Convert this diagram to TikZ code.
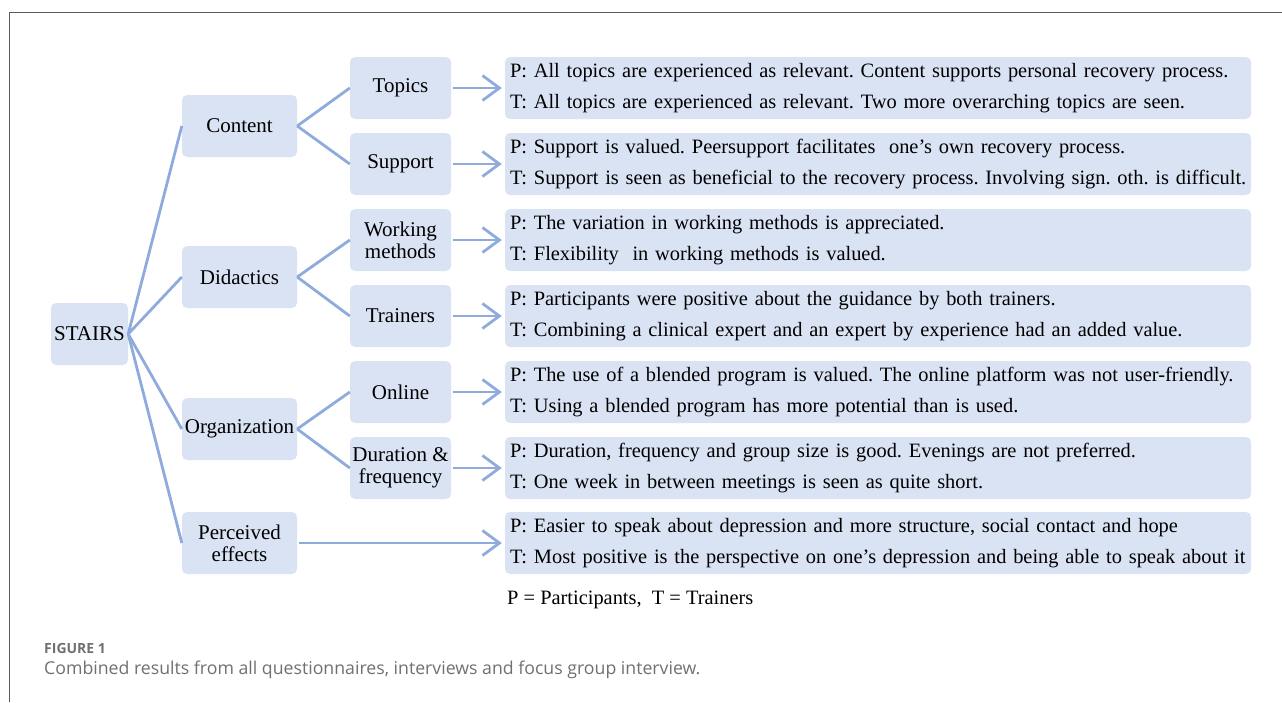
\documentclass[tikz,border=0pt]{standalone}
\usepackage{fontspec}
\setmainfont{Liberation Serif}
\newfontfamily\capfont{Open Sans}
\usetikzlibrary{arrows.meta}
\definecolor{boxblue}{RGB}{218,227,243}
\definecolor{lineblue}{RGB}{143,170,220}
\definecolor{framegray}{RGB}{90,90,90}
\definecolor{capgray}{RGB}{112,112,112}
\frenchspacing
\begin{document}
\begin{tikzpicture}[x=1pt,y=-1pt,
  box/.style={fill=boxblue, rounded corners=5pt, inner sep=0pt, minimum height=62pt, font=\fontsize{21}{22}\selectfont, align=center},
  rootbox/.style={box, minimum width=77pt},
  topbox/.style={box, minimum width=115pt},
  midbox/.style={box, minimum width=101pt},
  resbox/.style={box, inner xsep=5pt, text width=736pt, align=left, font=\fontsize{20.4}{31}\selectfont},
  conn/.style={draw=lineblue, line width=2.8pt},
  arr/.style={conn, shorten <=2pt, shorten >=3pt, -{Straight Barb[length=17pt,width=25pt,line width=2.8pt]}}]
\useasboundingbox (0,0) rectangle (1282,702);
\draw[framegray, line width=1pt] (9,702) -- (9,12) -- (1282,12);

\node[rootbox] (stairs) at (89.5,334) {STAIRS};

\node[topbox] (content) at (239.5,126) {Content};
\node[topbox] (didactics) at (239.5,277) {Didactics};
\node[topbox] (organization) at (239.5,429) {Organization};
\node[topbox] (perceived) at (239.5,543) {Perceived\\effects};

\node[midbox] (topics) at (400.5,88) {Topics};
\node[midbox] (support) at (400.5,164) {Support};
\node[midbox] (working) at (400.5,240) {Working\\methods};
\node[midbox] (trainers) at (400.5,316) {Trainers};
\node[midbox] (online) at (400.5,392) {Online};
\node[midbox] (duration) at (400.5,468) {Duration \&\\frequency};

\node[resbox] (rtopics) at (878,88) {\mbox{P: All topics are experienced as relevant. Content supports personal recovery process.}\\\mbox{T: All topics are experienced as relevant. Two more overarching topics are seen.}};
\node[resbox] (rsupport) at (878,164) {\mbox{P: Support is valued. Peersupport facilitates \ one's own recovery process.}\\\mbox{T: Support is seen as beneficial to the recovery process. Involving sign. oth. is difficult.}};
\node[resbox] (rworking) at (878,240) {\mbox{P: The variation in working methods is appreciated.}\\\mbox{T: Flexibility \ in working methods is valued.}};
\node[resbox] (rtrainers) at (878,316) {\mbox{P: Participants were positive about the guidance by both trainers.}\\\mbox{T: Combining a clinical expert and an expert by experience had an added value.}};
\node[resbox] (ronline) at (878,392) {\mbox{P: The use of a blended program is valued. The online platform was not user-friendly.}\\\mbox{T: Using a blended program has more potential than is used.}};
\node[resbox] (rduration) at (878,468) {\mbox{P: Duration, frequency and group size is good. Evenings are not preferred.}\\\mbox{T: One week in between meetings is seen as quite short.}};
\node[resbox] (rperceived) at (878,543) {\mbox{P: Easier to speak about depression and more structure, social contact and hope}\\\mbox{T: Most positive is the perspective on one's depression and being able to speak about it}};

\node[anchor=west, inner sep=0pt, font=\fontsize{20.4}{22}\selectfont] (legend) at (507,600) {P = Participants, \ T = Trainers};

\node[anchor=base west, inner sep=0pt, font=\capfont\bfseries\fontsize{14}{16}\selectfont, text=capgray] (fig) at (44,653) {FIGURE 1};
\node[anchor=base west, inner sep=0pt, font=\capfont\fontsize{17.7}{20}\selectfont, text=capgray] (caption) at (44,674) {Combined results from all questionnaires, interviews and focus group interview.};

\foreach \t in {content,didactics,organization,perceived}
  \draw[conn] (stairs.east) -- (\t.west);
\draw[conn] (content.east) -- (topics.west);
\draw[conn] (content.east) -- (support.west);
\draw[conn] (didactics.east) -- (working.west);
\draw[conn] (didactics.east) -- (trainers.west);
\draw[conn] (organization.east) -- (online.west);
\draw[conn] (organization.east) -- (duration.west);

\draw[arr] (topics.east) -- (rtopics.west);
\draw[arr] (support.east) -- (rsupport.west);
\draw[arr] (working.east) -- (rworking.west);
\draw[arr] (trainers.east) -- (rtrainers.west);
\draw[arr] (online.east) -- (ronline.west);
\draw[arr] (duration.east) -- (rduration.west);
\draw[arr] (perceived.east) -- (rperceived.west);
\end{tikzpicture}
\end{document}
